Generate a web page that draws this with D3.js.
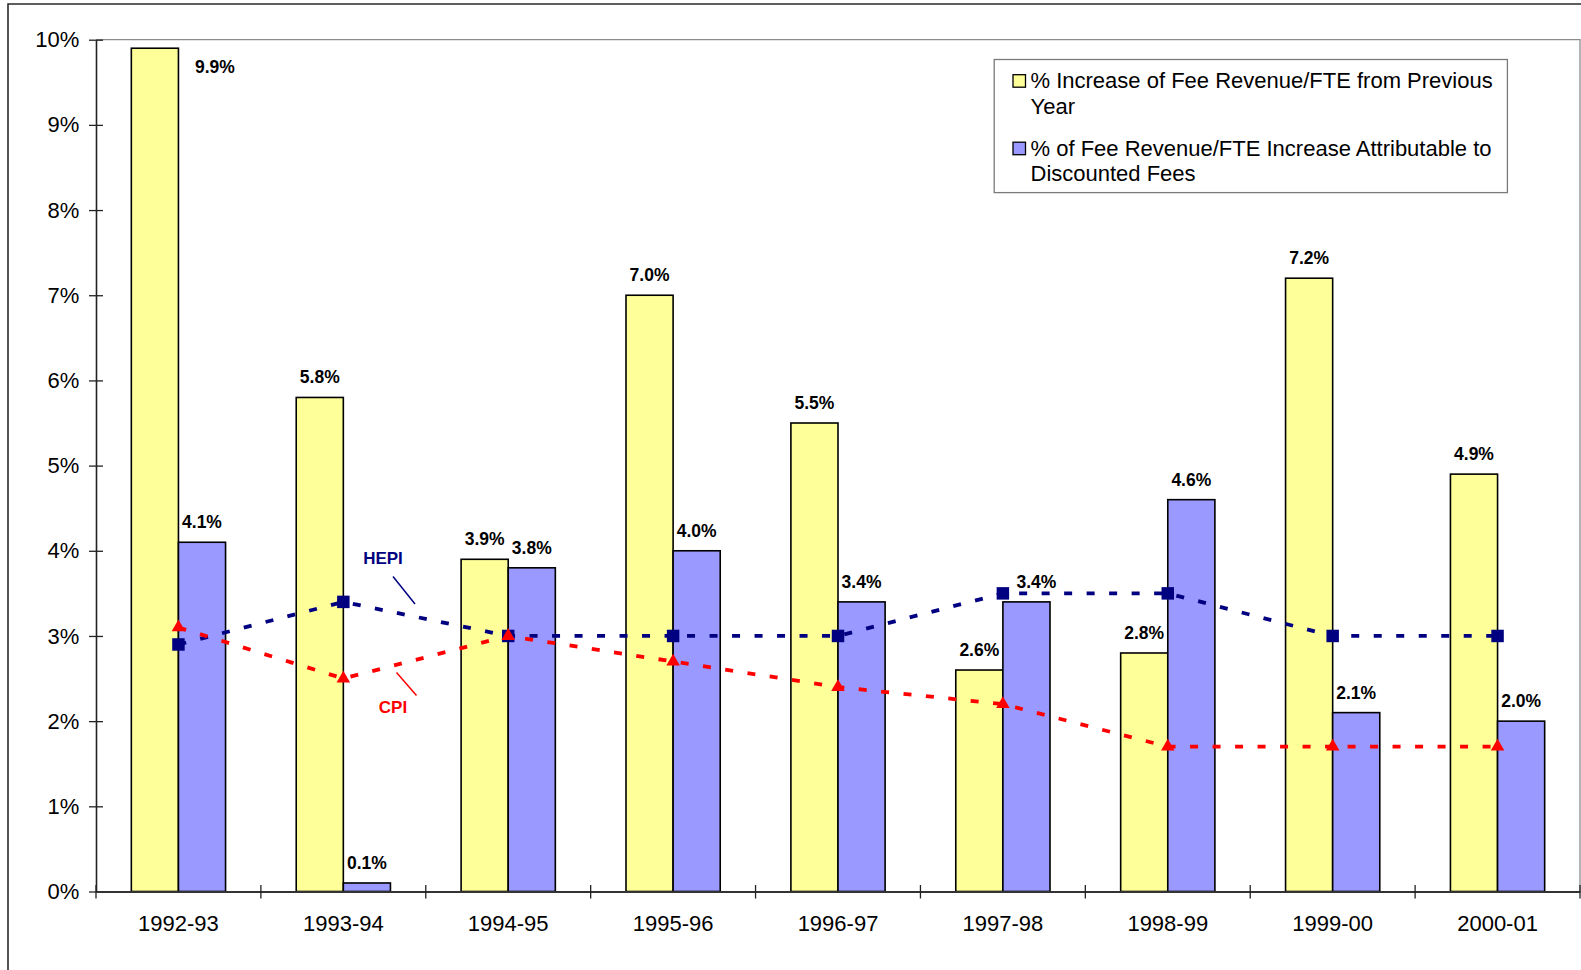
<!DOCTYPE html>
<html>
<head>
<meta charset="utf-8">
<script src="https://cdn.jsdelivr.net/npm/d3@7/dist/d3.min.js"></script>
<style>
  html, body { margin: 0; padding: 0; background: #fff; }
  svg { display: block; font-family: Arial, "Liberation Sans", sans-serif; }
</style>
</head>
<body>
<svg id="chart" width="1581" height="970"></svg>
<script>
// Academic years on the category axis
const categories = ["1992-93", "1993-94", "1994-95", "1995-96", "1996-97", "1997-98", "1998-99", "1999-00", "2000-01"];
// % increase of fee revenue per FTE from the previous year
const feeIncrease = [9.9, 5.8, 3.9, 7.0, 5.5, 2.6, 2.8, 7.2, 4.9];
// % of the fee revenue/FTE increase attributable to discounted fees
const discountShare = [4.1, 0.1, 3.8, 4.0, 3.4, 3.4, 4.6, 2.1, 2.0];
// Higher Education Price Index
const hepi = [2.9, 3.4, 3.0, 3.0, 3.0, 3.5, 3.5, 3.0, 3.0];
// Consumer Price Index
const cpi = [3.1, 2.5, 3.0, 2.7, 2.4, 2.2, 1.7, 1.7, 1.7];
// Y axis ticks (percent)
const yTicks = [0, 1, 2, 3, 4, 5, 6, 7, 8, 9, 10];

const legendItems = [
  { lines: ["% Increase of Fee Revenue/FTE from Previous", "Year"], color: "#FFFF99" },
  { lines: ["% of Fee Revenue/FTE Increase Attributable to", "Discounted Fees"], color: "#9999FF" }
];

const svg = d3.select("#chart");

// outer chart frame (top and left edges visible)
svg.append("path")
  .attr("d", "M8,970 L8,4 L1581,4")
  .attr("fill", "none").attr("stroke", "#2a2a2a").attr("stroke-width", 1.6);

const plot = { left: 96, right: 1580, top: 39.7, bottom: 891.5 };

const x = d3.scaleBand().domain(categories).range([plot.left, plot.right]).paddingInner(0).paddingOuter(0);
const y = d3.scaleLinear().domain([0, 10]).range([plot.bottom, plot.top]);
const barW = x.bandwidth() / 3.5;
const cx = c => x(c) + x.bandwidth() / 2;

// plot area border (top and right)
svg.append("path")
  .attr("d", `M${plot.left},${plot.top} L${plot.right},${plot.top} L${plot.right},${plot.bottom}`)
  .attr("fill", "none").attr("stroke", "#8c8c8c").attr("stroke-width", 1.3);

// bars
const bars = svg.append("g");
bars.selectAll("rect.fee").data(categories).join("rect")
  .attr("class", "fee")
  .attr("x", c => cx(c) - barW)
  .attr("y", (c, i) => y(feeIncrease[i]))
  .attr("width", barW)
  .attr("height", (c, i) => y(0) - y(feeIncrease[i]))
  .attr("fill", "#FFFF99").attr("stroke", "#000").attr("stroke-width", 1.6);
bars.selectAll("rect.disc").data(categories).join("rect")
  .attr("class", "disc")
  .attr("x", c => cx(c))
  .attr("y", (c, i) => y(discountShare[i]))
  .attr("width", barW)
  .attr("height", (c, i) => y(0) - y(discountShare[i]))
  .attr("fill", "#9999FF").attr("stroke", "#000").attr("stroke-width", 1.6);

// y axis
const yAxis = svg.append("g").attr("transform", `translate(${plot.left},0)`)
  .call(d3.axisLeft(y).tickValues(yTicks).tickFormat(d => d + "%").tickSizeInner(7).tickSizeOuter(0).tickPadding(9.7));
yAxis.select(".domain").attr("stroke", "#222").attr("stroke-width", 1.6);
yAxis.selectAll(".tick line").attr("x1", -7).attr("x2", 7).attr("stroke", "#222").attr("stroke-width", 1.3);
yAxis.selectAll(".tick text").attr("font-size", 22).attr("fill", "#000").attr("font-family", "Arial, 'Liberation Sans', sans-serif");

// x axis (labels centered, ticks on category boundaries)
const xAxis = svg.append("g").attr("transform", `translate(0,${plot.bottom})`)
  .call(d3.axisBottom(x).tickSize(0).tickPadding(23.9));
xAxis.select(".domain").attr("stroke", "#333").attr("stroke-width", 1.8);
xAxis.selectAll(".tick text").attr("font-size", 22).attr("fill", "#000").attr("font-family", "Arial, 'Liberation Sans', sans-serif");
const bounds = categories.map(c => x(c)).concat([plot.right]);
xAxis.selectAll("line.bound").data(bounds).join("line")
  .attr("class", "bound")
  .attr("x1", d => d).attr("x2", d => d)
  .attr("y1", -6.5).attr("y2", 7)
  .attr("stroke", "#222").attr("stroke-width", 1.3);

// index lines
const line = d3.line().x((d, i) => cx(categories[i])).y(d => y(d));
svg.append("path").datum(hepi).attr("d", line)
  .attr("fill", "none").attr("stroke", "#000080").attr("stroke-width", 3.8).attr("stroke-dasharray", "8,14.5");
svg.append("path").datum(cpi).attr("d", line)
  .attr("fill", "none").attr("stroke", "#FF0000").attr("stroke-width", 3.8).attr("stroke-dasharray", "8,14.5");

svg.append("g").selectAll("path").data(hepi).join("path")
  .attr("transform", (d, i) => `translate(${cx(categories[i])},${y(d)})`)
  .attr("d", d3.symbol(d3.symbolSquare, 156))
  .attr("fill", "#000080");
svg.append("g").selectAll("path").data(cpi).join("path")
  .attr("transform", (d, i) => `translate(${cx(categories[i])},${y(d)})`)
  .attr("d", d3.symbol(d3.symbolTriangle, 80))
  .attr("fill", "#FF0000");

// series annotations with leader lines
const ann = svg.append("g").attr("font-weight", "bold").attr("font-size", 17);
ann.append("text").attr("x", 383).attr("y", 564).attr("text-anchor", "middle").attr("fill", "#000080").text("HEPI");
ann.append("line").attr("x1", 393).attr("y1", 576.5).attr("x2", 415).attr("y2", 604).attr("stroke", "#000080").attr("stroke-width", 1.5);
ann.append("text").attr("x", 393).attr("y", 713).attr("text-anchor", "middle").attr("fill", "#FF0000").text("CPI");
ann.append("line").attr("x1", 396.5).attr("y1", 672.5).attr("x2", 416.5).attr("y2", 695.5).attr("stroke", "#FF0000").attr("stroke-width", 1.5);

// value labels
const fmt = v => v.toFixed(1) + "%";
const nudge = { "fee:1992-93": [60, 39], "disc:1997-98": [10, 0] };
const labels = svg.append("g").attr("font-weight", "bold").attr("font-size", 17.5).attr("text-anchor", "middle").attr("fill", "#000");
function addLabels(key, values, offset) {
  labels.selectAll(`text.${key}`).data(categories).join("text")
    .attr("class", key)
    .attr("x", c => cx(c) + offset + (nudge[`${key}:${c}`] ? nudge[`${key}:${c}`][0] : 0))
    .attr("y", (c, i) => y(values[i]) - 14 + (nudge[`${key}:${c}`] ? nudge[`${key}:${c}`][1] : 0))
    .text((c, i) => fmt(values[i]));
}
addLabels("fee", feeIncrease, -barW / 2);
addLabels("disc", discountShare, barW / 2);

// legend
const lg = svg.append("g");
lg.append("rect").attr("x", 994.2).attr("y", 59.5).attr("width", 513.2).attr("height", 133.1)
  .attr("fill", "#fff").attr("stroke", "#7a7a7a").attr("stroke-width", 1.3);
const itemTop = [88.2, 155.7];
legendItems.forEach((it, k) => {
  lg.append("rect").attr("x", 1013).attr("y", itemTop[k] - 13.5).attr("width", 12.5).attr("height", 12.5)
    .attr("fill", it.color).attr("stroke", "#000").attr("stroke-width", 1.3);
  it.lines.forEach((t, j) => {
    lg.append("text").attr("x", 1030.5).attr("y", itemTop[k] + j * 25.3)
      .attr("font-size", 22).attr("fill", "#000").text(t);
  });
});
</script>
</body>
</html>
